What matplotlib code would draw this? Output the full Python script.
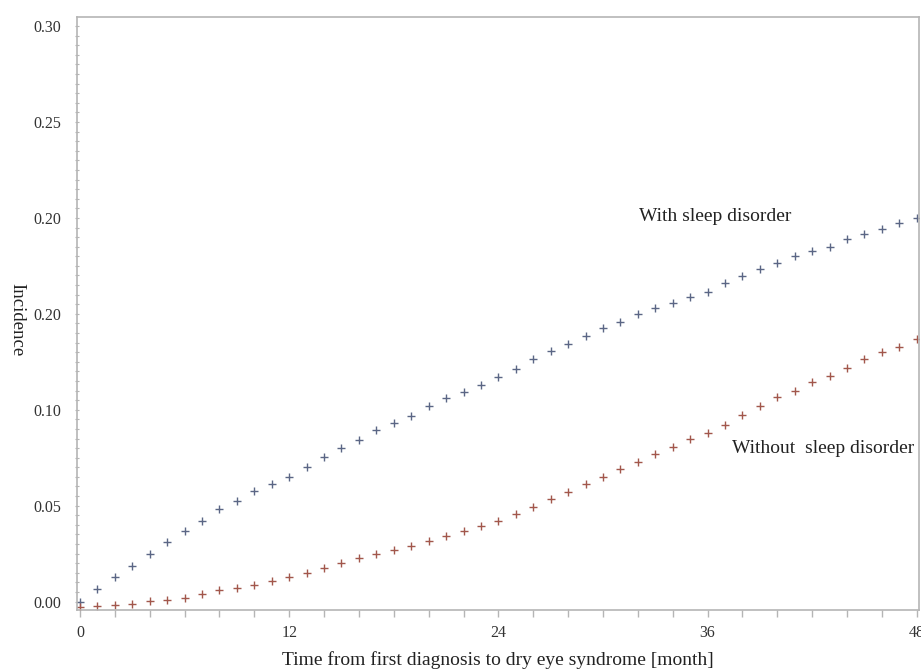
import matplotlib.pyplot as plt
import numpy as np

# months since first diagnosis
months = np.arange(0, 49)

# cumulative incidence
with_sleep = [0.000, 0.0065, 0.0129, 0.0187, 0.0248, 0.0309, 0.0368, 0.0421, 0.0481, 0.0524,
              0.0578, 0.0613, 0.0651, 0.0703, 0.0752, 0.0799, 0.0842, 0.0894, 0.0932, 0.0969,
              0.1021, 0.1059, 0.1094, 0.1129, 0.1172, 0.1214, 0.1263, 0.1304, 0.1343, 0.1384,
              0.1424, 0.1459, 0.1497, 0.1529, 0.1555, 0.1589, 0.1615, 0.1659, 0.1697, 0.1732,
              0.1766, 0.1801, 0.1829, 0.1850, 0.1888, 0.1916, 0.1941, 0.1975, 0.2001]
without_sleep = [-0.0029, -0.0023, -0.0018, -0.0013, 0.0003, 0.0008, 0.0018, 0.0039, 0.0060, 0.0069,
                 0.0086, 0.0108, 0.0126, 0.0150, 0.0173, 0.0199, 0.0228, 0.0246, 0.0270, 0.0289,
                 0.0317, 0.0343, 0.0369, 0.0395, 0.0421, 0.0456, 0.0491, 0.0534, 0.0573, 0.0613,
                 0.0648, 0.0689, 0.0726, 0.0769, 0.0804, 0.0846, 0.0877, 0.0920, 0.0972, 0.1021,
                 0.1065, 0.1097, 0.1143, 0.1177, 0.1216, 0.1263, 0.1299, 0.1328, 0.1369]

x_ticks = [0, 12, 24, 36, 48]
y_ticks = [0.00, 0.05, 0.10, 0.15, 0.20, 0.25, 0.30]
y_tick_labels = ['0.00', '0.05', '0.10', '0.20', '0.20', '0.25', '0.30']

plt.rcParams['font.family'] = ['Liberation Serif', 'DejaVu Serif']

fig = plt.figure(figsize=(9.21, 6.71), dpi=100)
ax = fig.add_axes([77.3 / 921, 1 - 610 / 671, (919 - 77.3) / 921, (610 - 16.7) / 671])

ax.plot(months, with_sleep, linestyle='none', marker='+', markersize=6, mew=1.0, color='#5b6685')
ax.plot(months, without_sleep, linestyle='none', marker='+', markersize=6, mew=1.0, color='#a2574c')

ax.text(32.07, 0.201, 'With sleep disorder', fontsize=14, va='center', ha='left', color='#222222')
ax.text(37.4, 0.080, 'Without  sleep disorder', fontsize=14, va='center', ha='left', color='#222222')

ax.set_xlim(-0.155, 48.13)
ax.set_ylim(-0.0044, 0.3049)

ax.set_xticks(x_ticks)
ax.set_xticks(np.arange(0, 49, 2), minor=True)
ax.set_yticks(y_ticks)
ax.set_yticklabels(y_tick_labels)
ax.set_yticks(np.arange(0, 0.3001, 0.005), minor=True)

for s in ax.spines.values():
    s.set_color('#b5b5b5')
    s.set_linewidth(1.2)

ax.tick_params(axis='x', which='both', direction='out', length=5, width=1, color='#b5b5b5',
               labelsize=11.5, labelcolor='#333333', pad=6)
ax.tick_params(axis='y', which='both', direction='inout', length=3, width=0.8, color='#b5b5b5',
               labelsize=11.5, labelcolor='#333333', pad=10)

ax.set_xlabel('Time from first diagnosis to dry eye syndrome [month]', fontsize=14,
              color='#222222', va='center')
ax.xaxis.set_label_coords(0.5, -0.084)
ax.set_ylabel('Incidence', fontsize=13.5, rotation=270, color='#222222', va='center')
ax.yaxis.set_label_coords(-0.0716, 0.49)

fig.savefig('out.png', dpi=100)
